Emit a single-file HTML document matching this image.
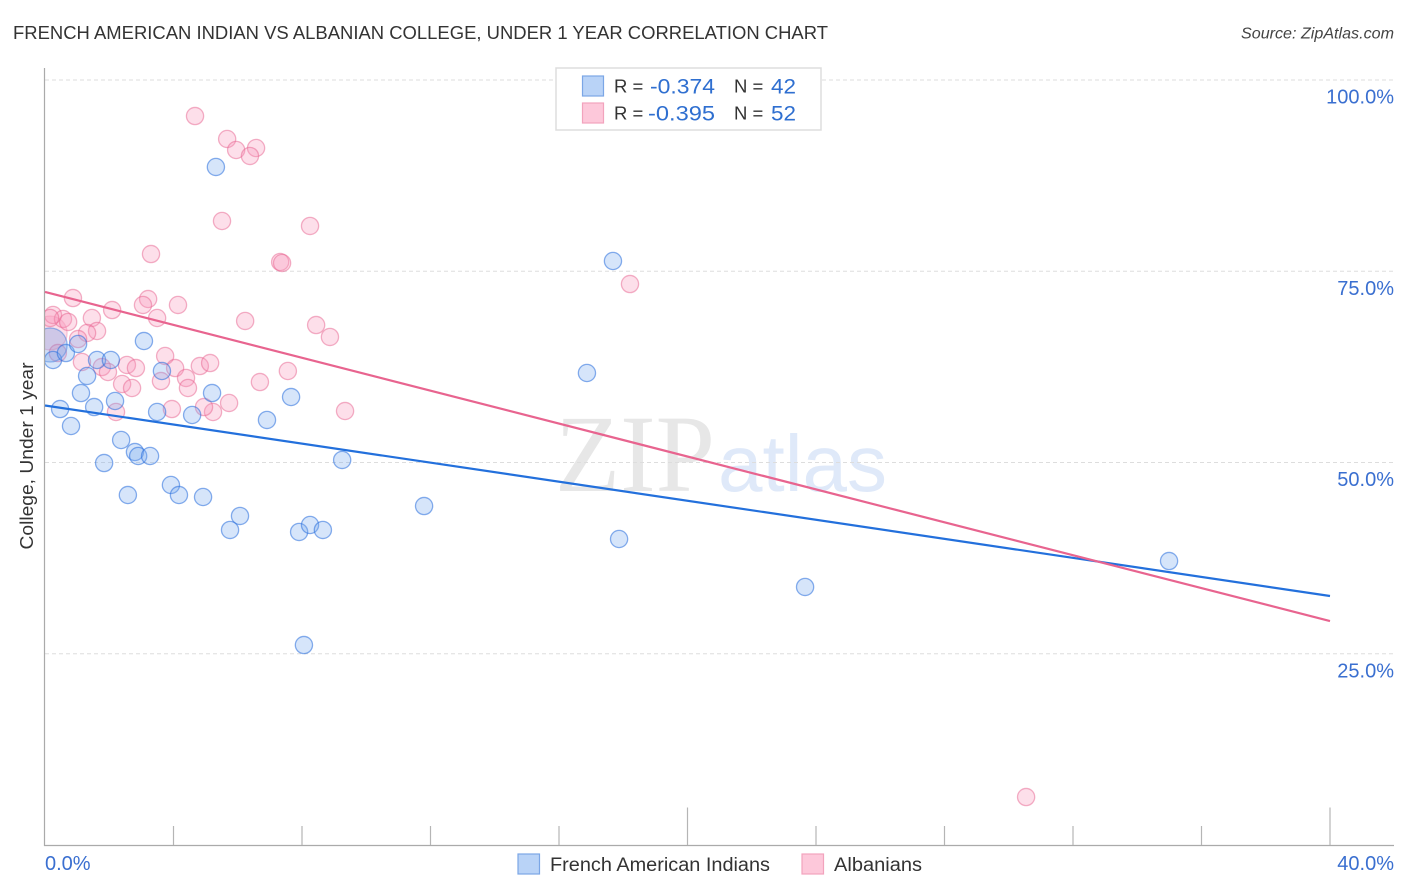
<!DOCTYPE html>
<html lang="en">
<head>
<meta charset="utf-8">
<title>French American Indian vs Albanian College, Under 1 Year Correlation Chart</title>
<style>
html,body{margin:0;padding:0;background:#fff;}
body{width:1406px;height:892px;overflow:hidden;font-family:"Liberation Sans",sans-serif;}
svg{display:block;}
text{font-family:"Liberation Sans",sans-serif;}
</style>
</head>
<body>
<svg id="chart" xmlns="http://www.w3.org/2000/svg" width="1406" height="892" viewBox="0 0 1406 892">
  <defs>
    <clipPath id="plot-clip"><rect x="44.5" y="60" width="1350" height="786"/></clipPath>
  </defs>
  <rect x="0" y="0" width="1406" height="892" fill="#ffffff"/>
  <text x="13" y="39" font-size="18.5" fill="#333333" textLength="815" lengthAdjust="spacingAndGlyphs">FRENCH AMERICAN INDIAN VS ALBANIAN COLLEGE, UNDER 1 YEAR CORRELATION CHART</text>
  <text x="1394" y="38.5" font-size="16" font-style="italic" fill="#444444" text-anchor="end" textLength="153" lengthAdjust="spacingAndGlyphs">Source: ZipAtlas.com</text>
  <g>
    <text x="555" y="491" font-size="110" fill="#e7e7e7" textLength="160" lengthAdjust="spacingAndGlyphs" style="font-family:'Liberation Serif',serif">ZIP</text>
    <text x="718" y="491" font-size="80" fill="#dfe9f9" textLength="169" lengthAdjust="spacingAndGlyphs" style="font-family:'Liberation Sans',sans-serif">atlas</text>
  </g>
  <g id="grid"></g>
  <g id="pink-points" clip-path="url(#plot-clip)"></g>
  <g id="blue-points" clip-path="url(#plot-clip)"></g>
  <g id="axes"></g>
  <g id="trends"></g>
  <g id="y-labels"></g>
  <g id="x-labels"></g>
  <text transform="translate(33,456) rotate(-90)" font-size="18" fill="#333333" text-anchor="middle" textLength="187" lengthAdjust="spacingAndGlyphs">College, Under 1 year</text>

  <g>
    <rect x="556" y="68" width="265" height="62" fill="#ffffff" stroke="#dddddd" stroke-width="1.5"/>
    <rect x="582.5" y="76" width="21" height="20" fill="#b9d3f7" stroke="#7ba6e6" stroke-width="1.2"/>
    <rect x="582.5" y="103" width="21" height="20" fill="#fdc8da" stroke="#f2a3bd" stroke-width="1.2"/>
    <text x="614" y="92.5" font-size="18.5" fill="#333333">R =</text>
    <text x="650" y="93.5" font-size="21" fill="#2f6fd0" textLength="65" lengthAdjust="spacingAndGlyphs">-0.374</text>
    <text x="734" y="92.5" font-size="18.5" fill="#333333">N =</text>
    <text x="771" y="93.5" font-size="21" fill="#2f6fd0" textLength="25" lengthAdjust="spacingAndGlyphs">42</text>
    <text x="614" y="119.5" font-size="18.5" fill="#333333">R =</text>
    <text x="648" y="120.5" font-size="21" fill="#2f6fd0" textLength="67" lengthAdjust="spacingAndGlyphs">-0.395</text>
    <text x="734" y="119.5" font-size="18.5" fill="#333333">N =</text>
    <text x="771" y="120.5" font-size="21" fill="#2f6fd0" textLength="25" lengthAdjust="spacingAndGlyphs">52</text>
  </g>

  <g>
    <rect x="518" y="854" width="21.5" height="20" fill="#b9d3f7" stroke="#7ba6e6" stroke-width="1.2"/>
    <text x="550" y="871" font-size="19" fill="#333333" textLength="220" lengthAdjust="spacingAndGlyphs">French American Indians</text>
    <rect x="802" y="854" width="21.5" height="20" fill="#fdc8da" stroke="#f2a3bd" stroke-width="1.2"/>
    <text x="834" y="871" font-size="19" fill="#333333" textLength="88" lengthAdjust="spacingAndGlyphs">Albanians</text>
  </g>
</svg>
<script>
// Chart data (x = percent on the horizontal axis, y = College, Under 1 year percent)
const blueX = [5.32,17.68,16.87,3.08,0.25,0.65,1.03,1.62,2.05,3.64,1.31,1.12,1.53,2.18,0.47,0.81,3.49,4.58,5.20,7.66,6.91,2.37,2.80,2.90,3.27,1.84,9.25,3.92,4.17,4.92,2.58,6.07,5.76,7.91,8.25,8.65,11.80,17.87,23.66,34.99,8.06];
const blueY = [88.63,76.34,61.70,65.88,63.40,64.31,65.49,63.40,63.40,61.96,61.31,59.08,57.25,58.04,56.99,54.77,56.60,56.21,59.08,58.56,55.56,52.94,51.37,50.85,50.85,49.93,50.33,47.06,45.75,45.49,45.75,43.01,41.18,40.92,41.83,41.18,44.31,40.00,33.73,37.12,26.14];
const blueClusterX = [0.16];
const blueClusterY = [65.36];
const pinkX = [4.67,5.67,5.95,6.57,6.38,5.51,8.25,3.30,7.32,7.38,18.21,0.87,3.21,3.05,4.14,2.09,0.25,0.56,0.72,0.16,3.49,1.46,6.23,8.44,8.87,1.62,1.31,1.03,0.40,1.15,1.77,1.96,2.55,2.83,2.40,2.71,3.74,4.05,4.39,4.45,4.82,5.14,3.61,5.73,5.23,4.95,3.95,2.21,7.56,6.69,9.34,30.54];
const pinkY = [95.29,92.29,90.85,91.11,90.07,81.57,80.92,77.25,76.21,76.08,73.33,71.50,71.37,70.59,70.59,69.93,69.28,68.76,68.37,68.89,68.89,68.89,68.50,67.97,66.41,67.19,66.93,66.14,64.31,63.14,62.48,61.83,62.75,62.35,60.26,59.74,63.92,62.35,61.05,59.74,62.61,63.00,60.65,57.78,56.60,57.25,56.99,56.60,61.96,60.52,56.73,6.27];
const pinkClusterX = [0.16];
const pinkClusterY = [66.93];
const blueTrendX = [0,40];
const blueTrendY = [57.45,32.55];
const pinkTrendX = [0,40];
const pinkTrendY = [72.29,29.28];
const yTicks = [100,75,50,25];
const yTickLabels = ["100.0%","75.0%","50.0%","25.0%"];
const xTicks = [0,4,8,12,16,20,24,28,32,36,40];
const xMajorTicks = [0,20,40];
const xEndLabels = ["0.0%","40.0%"];

const NS = 'http://www.w3.org/2000/svg';
const X0 = 45, X_PER_UNIT = 32.125;
const Y0 = 845, Y_PER_UNIT = 7.65;
function sx(v){ return X0 + v * X_PER_UNIT; }
function sy(v){ return Y0 - v * Y_PER_UNIT; }
function make(tag, parentId, attrs, text){
  const el = document.createElementNS(NS, tag);
  for (const k in attrs) el.setAttribute(k, attrs[k]);
  if (text !== undefined) el.textContent = text;
  document.getElementById(parentId).appendChild(el);
  return el;
}

// gridlines and y labels
yTicks.forEach(function(t, i){
  const g = make('line', 'grid', {x1: X0, x2: 1394, y1: sy(t), y2: sy(t), stroke: '#dddddd', 'stroke-width': 1, 'stroke-dasharray': '4 3'});
  
  
  const l = make('text', 'y-labels', {x: 1394, y: sy(t) + 23.5, 'font-size': 20, fill: '#3a6fd0', 'text-anchor': 'end'}, yTickLabels[i]);
  
  
});

// axes
const yAxis = make('line', 'axes', {x1: 44.5, x2: 44.5, y1: 68, y2: 846, stroke: '#aaaaaa', 'stroke-width': 1.2});


const xAxis = make('line', 'axes', {x1: 44, x2: 1394, y1: 845.5, y2: 845.5, stroke: '#aaaaaa', 'stroke-width': 1.2});


xTicks.forEach(function(t){
  if (t === 0) return;
  const top = xMajorTicks.indexOf(t) >= 0 ? 807.5 : 826;
  const tick = make('line', 'axes', {x1: sx(t), x2: sx(t), y1: top, y2: 845, stroke: '#b5b5b5', 'stroke-width': 1.2});
  
  
});

// x end labels
const xLabelStart = make('text', 'x-labels', {x: 45, y: 870, 'font-size': 20, fill: '#3a6fd0'}, xEndLabels[0]);


const xLabelEnd = make('text', 'x-labels', {x: 1394, y: 870, 'font-size': 20, fill: '#3a6fd0', 'text-anchor': 'end'}, xEndLabels[1]);



// points
const POINT_R = 8.6, CLUSTER_R = 17;
function drawSeries(parentId, xs, ys, r, fill, stroke, name){
  xs.forEach(function(v, i){
    const c = make('circle', parentId, {cx: sx(v), cy: sy(ys[i]), r: r, fill: fill, stroke: stroke, 'stroke-width': 1.3});
    
    
  });
}
drawSeries('pink-points', pinkClusterX, pinkClusterY, CLUSTER_R, 'rgba(248,150,185,0.3)', 'rgba(232,99,143,0.3)', 'albanians-cluster');
drawSeries('pink-points', pinkX, pinkY, POINT_R, 'rgba(248,150,185,0.3)', 'rgba(232,99,143,0.5)', 'albanians-point');
drawSeries('blue-points', blueClusterX, blueClusterY, CLUSTER_R, 'rgba(110,150,225,0.32)', 'rgba(40,110,220,0.45)', 'french-american-indians-cluster');
drawSeries('blue-points', blueX, blueY, POINT_R, 'rgba(120,170,240,0.3)', 'rgba(40,110,220,0.55)', 'french-american-indians-point');

// trend lines
const blueLine = make('line', 'trends', {x1: sx(blueTrendX[0]), y1: sy(blueTrendY[0]), x2: sx(blueTrendX[1]), y2: sy(blueTrendY[1]), stroke: '#2370dc', 'stroke-width': 2.2});


const pinkLine = make('line', 'trends', {x1: sx(pinkTrendX[0]), y1: sy(pinkTrendY[0]), x2: sx(pinkTrendX[1]), y2: sy(pinkTrendY[1]), stroke: '#e8648f', 'stroke-width': 2.2});


</script>
</body>
</html>
